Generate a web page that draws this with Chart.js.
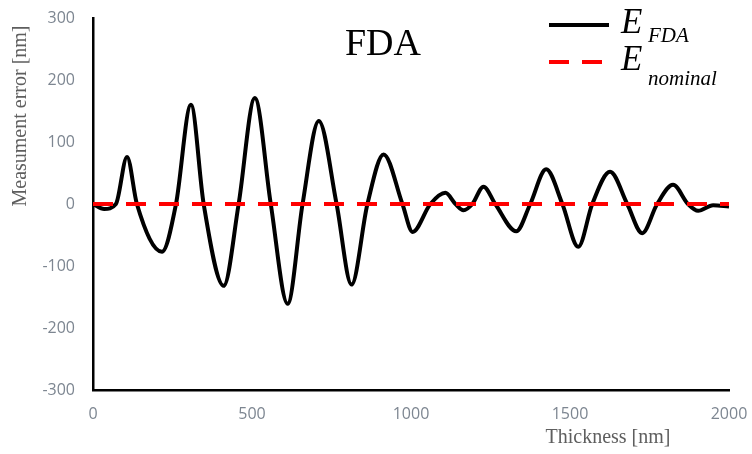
<!DOCTYPE html>
<html>
<head>
<meta charset="utf-8">
<script src="https://cdn.jsdelivr.net/npm/chart.js@4/dist/chart.umd.min.js"></script>
<style>
  html, body { margin: 0; padding: 0; background: #ffffff; }
  canvas { display: block; }
</style>
</head>
<body>
<canvas id="errorChart" width="752" height="454"></canvas>
<script>
// thickness [nm] (peaks, troughs and zero crossings)
const thickness = [0, 35, 72, 107, 138, 217, 261, 308, 348, 411, 458, 509, 559, 612, 659, 710, 766, 813, 863, 914, 973, 1005, 1061, 1108, 1140, 1165, 1193, 1228, 1265, 1331, 1375, 1425, 1476, 1526, 1570, 1626, 1680, 1727, 1774, 1824, 1871, 1903, 1950, 2000];
const errorFda = [0, -8, 0, 76, 0, -77, 0, 160, 0, -132, 0, 171, 0, -161, 0, 134, 0, -130, 0, 80, 0, -45, 0, 18, 0, -10, 0, 28, 0, -44, 0, 56, 0, -69, 0, 52, 0, -47, 0, 31, 0, -11, -2, -4];
const nominalX = [0, 2000];
const nominalY = [0, 0];
const xTicks = [0, 500, 1000, 1500, 2000];
const yTicks = [-300, -200, -100, 0, 100, 200, 300];
const legendSymbols = ['E', 'E'];
const legendSubs = ['FDA', 'nominal'];

(function () {
  const canvas = document.getElementById('errorChart');
  const tickColor = '#7d8691';
  const titleColor = '#5e5e5e';

  const overlay = {
    id: 'overlay',
    afterDraw(chart) {
      const { ctx } = chart;
      ctx.save();

      // figure title
      ctx.fillStyle = '#000000';
      ctx.font = '38px "Liberation Serif", serif';
      ctx.textAlign = 'center';
      ctx.textBaseline = 'alphabetic';
      ctx.fillText('FDA', 383, 55);

      // axis titles
      ctx.fillStyle = titleColor;
      ctx.font = '20px "Liberation Serif", serif';
      ctx.textBaseline = 'middle';
      ctx.fillText('Thickness [nm]', 608, 438);
      ctx.save();
      ctx.translate(21, 116);
      ctx.rotate(-Math.PI / 2);
      ctx.fillText('Measument error [nm]', 0, 0);
      ctx.restore();

      // legend with subscripts
      const rows = [25, 62];
      chart.data.datasets.forEach(function (ds, i) {
        const y = rows[i];
        ctx.beginPath();
        ctx.strokeStyle = ds.borderColor;
        ctx.lineWidth = 4;
        ctx.setLineDash(ds.borderDash || []);
        ctx.moveTo(549, y);
        ctx.lineTo(609, y);
        ctx.stroke();
        ctx.setLineDash([]);

        ctx.fillStyle = '#000000';
        ctx.textAlign = 'left';
        ctx.textBaseline = 'alphabetic';
        ctx.font = 'italic 35px "Liberation Serif", serif';
        ctx.fillText(legendSymbols[i], 621, y + 8);
        ctx.font = 'italic 21px "Liberation Serif", serif';
        ctx.fillText(legendSubs[i], 648, y + 17 + (i === 1 ? 6 : 0));
      });

      ctx.restore();
    }
  };

  new Chart(canvas.getContext('2d'), {
    type: 'line',
    plugins: [overlay],
    data: {
      datasets: [
        {
          label: 'E_FDA',
          data: thickness.map(function (t, i) { return { x: t, y: errorFda[i] }; }),
          borderColor: '#000000',
          borderWidth: 4,
          pointRadius: 0,
          cubicInterpolationMode: 'monotone',
          order: 1
        },
        {
          label: 'E_nominal',
          data: nominalX.map(function (t, i) { return { x: t, y: nominalY[i] }; }),
          borderColor: '#ff0000',
          borderWidth: 4,
          borderDash: [20, 13],
          pointRadius: 0,
          order: 0
        }
      ]
    },
    options: {
      responsive: false,
      animation: false,
      layout: { padding: { top: 18, right: 23, left: 0, bottom: 0 } },
      plugins: {
        legend: { display: false },
        tooltip: { enabled: false }
      },
      scales: {
        x: {
          type: 'linear',
          min: 0,
          max: 2000,
          afterFit(scale) {
            scale.height = 64;
            scale.paddingLeft = 0;
            scale.paddingRight = 0;
          },
          afterBuildTicks(scale) { scale.ticks = xTicks.map(function (v) { return { value: v }; }); },
          grid: { display: false, drawTicks: false },
          border: { display: true, color: '#000000', width: 2.5 },
          ticks: {
            padding: 15,
            color: tickColor,
            font: { family: 'Open Sans', size: 16 },
            callback(value) { return String(value); }
          }
        },
        y: {
          min: -300,
          max: 300,
          afterFit(scale) {
            scale.width = 93;
            scale.paddingTop = 0;
            scale.paddingBottom = 0;
          },
          afterBuildTicks(scale) { scale.ticks = yTicks.map(function (v) { return { value: v }; }); },
          grid: { display: false, drawTicks: false },
          border: { display: true, color: '#000000', width: 2.5 },
          ticks: {
            padding: 18,
            color: tickColor,
            font: { family: 'Open Sans', size: 16 },
            callback(value) { return String(value); }
          }
        }
      }
    }
  });
})();
</script>
</body>
</html>
